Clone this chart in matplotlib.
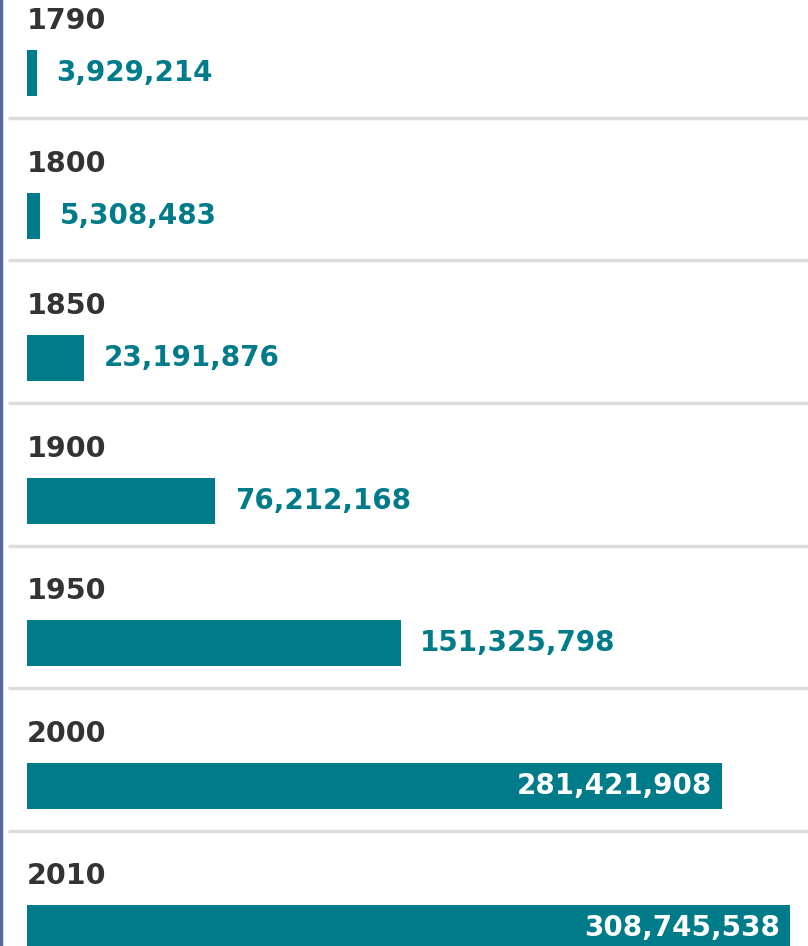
import matplotlib
matplotlib.use('Agg')
import matplotlib.pyplot as plt

years = ['1790', '1800', '1850', '1900', '1950', '2000', '2010']
population = [3929214, 5308483, 23191876, 76212168, 151325798, 281421908, 308745538]
inside = [False, False, False, False, False, True, True]

teal = '#007b8a'
dark = '#333333'

fig = plt.figure(figsize=(8.08, 9.46), dpi=100)
ax = fig.add_axes([0, 0, 1, 1])

# y in pixel rows, x in people
step = 142.5
px = 2.47e-6  # pixels per person
ax.set_xlim(-27 / px, (808 - 27) / px)
ax.set_ylim(946, 0)
ax.axis('off')

for i, (yr, pop, ins) in enumerate(zip(years, population, inside)):
    yc = 73 + step * i
    ax.barh(yc, pop, height=46, left=0, color=teal)
    ax.text(0, 21 + step * i, yr, fontsize=20.5, fontweight='bold', color=dark,
            ha='left', va='center', family='DejaVu Sans')
    label = f'{pop:,}'
    if ins:
        ax.annotate(label, (pop, yc), xytext=(-7, 0), textcoords='offset points',
                    ha='right', va='center', fontsize=20, fontweight='bold', color='white')
    else:
        ax.annotate(label, (pop, yc), xytext=(14, 0), textcoords='offset points',
                    ha='left', va='center', fontsize=20, fontweight='bold', color=teal)
    if i < len(years) - 1:
        ax.plot([-19 / px, 808 / px], [118 + step * i] * 2, color='#dddddd', lw=2.5,
                solid_capstyle='butt')

# left border
ax.plot([-26 / px, -26 / px], [0, 946], color='#5a6a9b', lw=2.5)

fig.savefig('out.png')
plt.close(fig)
